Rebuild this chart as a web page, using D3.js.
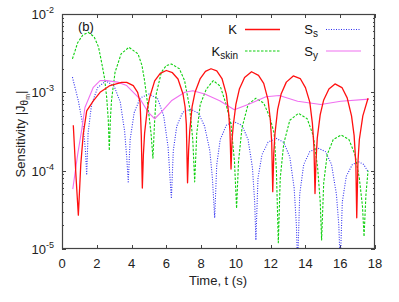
<!DOCTYPE html>
<html>
<head>
<meta charset="utf-8">
<script src="https://cdn.jsdelivr.net/npm/d3@7"></script>
<style>
  body { margin: 0; background: #fff; }
  svg { display: block; font-family: "Liberation Sans", Arial, sans-serif; }
</style>
</head>
<body>
<div id="chart"></div>
<script>
// data: [time (s), |J|]
const kData = [
  [0.65, 3.8e-4], [0.8, 8.8e-5], [0.94, 2.7e-5], [1.08, 1.2e-4], [1.22, 2.9e-4], [1.42, 5.8e-4],
  [1.8, 7.8e-4], [2.19, 1.0e-3], [2.76, 1.22e-3], [3.43, 1.34e-3], [3.72, 1.34e-3], [4.1, 1.22e-3],
  [4.35, 1.0e-3], [4.49, 7.5e-4], [4.56, 2.8e-4], [4.62, 6e-5],
  [4.68, 1.6e-4], [4.75, 3.0e-4], [4.9, 6.0e-4], [5.04, 8.6e-4], [5.33, 1.4e-3], [5.65, 1.75e-3],
  [6.0, 1.9e-3], [6.35, 1.78e-3], [6.67, 1.48e-3], [6.96, 9.5e-4], [7.08, 6.5e-4], [7.15, 3.9e-4], [7.22, 7e-5],
  [7.28, 1.8e-4], [7.35, 3.3e-4], [7.48, 6.5e-4], [7.65, 1.0e-3], [7.95, 1.5e-3], [8.25, 1.85e-3],
  [8.57, 2.0e-3], [8.9, 1.88e-3], [9.2, 1.5e-3], [9.45, 9.5e-4], [9.58, 5.5e-4], [9.66, 3.2e-4], [9.72, 1.05e-4],
  [9.78, 2.5e-4], [9.85, 3.8e-4], [10.0, 7.0e-4], [10.2, 1.1e-3], [10.5, 1.55e-3], [10.9, 1.83e-3],
  [11.3, 1.65e-3], [11.6, 1.3e-3], [11.85, 8.0e-4], [11.98, 4.5e-4], [12.06, 2.3e-4], [12.12, 5.4e-5],
  [12.18, 1.7e-4], [12.25, 3.0e-4], [12.4, 6.0e-4], [12.6, 9.5e-4], [12.9, 1.35e-3], [13.3, 1.62e-3],
  [13.7, 1.5e-3], [14.0, 1.15e-3], [14.25, 7.5e-4], [14.4, 4.0e-4], [14.49, 2.0e-4], [14.55, 5.1e-5],
  [14.61, 1.4e-4], [14.68, 2.6e-4], [14.85, 5.2e-4], [15.05, 8.0e-4], [15.35, 1.1e-3], [15.7, 1.28e-3],
  [16.1, 1.15e-3], [16.4, 8.5e-4], [16.65, 5.0e-4], [16.8, 2.8e-4], [16.9, 1.2e-4], [16.95, 2.5e-5],
  [17.02, 1.3e-4], [17.1, 2.5e-4], [17.3, 5.0e-4], [17.6, 8.4e-4]
];

const kskinData = [
  [0.6, 2.67e-3], [0.9, 4.3e-3], [1.2, 5.4e-3], [1.51, 5.84e-3], [1.85, 5.1e-3], [2.1, 3.8e-3],
  [2.28, 2.4e-3], [2.45, 1.5e-3], [2.57, 8.6e-4], [2.66, 4.5e-4], [2.72, 1.8e-4],
  [2.78, 4.5e-4], [2.85, 8.0e-4], [3.05, 1.8e-3], [3.4, 3.1e-3], [3.85, 3.76e-3], [4.37, 3.1e-3],
  [4.6, 2.2e-3], [4.75, 1.4e-3], [4.95, 6.4e-4], [5.12, 3.0e-4], [5.23, 1.44e-4],
  [5.32, 4.0e-4], [5.42, 9.5e-4], [5.71, 1.8e-3], [6.0, 2.2e-3], [6.29, 2.3e-3], [6.75, 2.0e-3],
  [7.05, 1.41e-3], [7.34, 6.4e-4], [7.52, 2.5e-4], [7.63, 7.2e-5],
  [7.75, 3.0e-4], [7.95, 7.0e-4], [8.3, 1.1e-3], [8.7, 1.41e-3], [9.1, 1.2e-3], [9.43, 7.1e-4],
  [9.72, 3.9e-4], [9.92, 1.3e-4], [10.04, 3.3e-5],
  [10.15, 1.3e-4], [10.35, 3.5e-4], [10.7, 7.0e-4], [11.15, 8.4e-4], [11.6, 7.3e-4], [11.95, 4.8e-4],
  [12.2, 3.0e-4], [12.33, 1.0e-4], [12.44, 1.2e-5],
  [12.55, 8.0e-5], [12.75, 2.2e-4], [13.1, 4.4e-4], [13.6, 5.4e-4], [14.1, 4.6e-4], [14.45, 2.8e-4],
  [14.7, 1.1e-4], [14.85, 4.0e-5], [14.93, 1.3e-5],
  [15.05, 7.0e-5], [15.25, 1.6e-4], [15.6, 2.5e-4], [16.05, 2.85e-4], [16.5, 2.5e-4], [16.85, 1.6e-4],
  [17.1, 8.0e-5], [17.28, 3.5e-5], [17.37, 1.44e-5], [17.48, 5.0e-5], [17.6, 1.0e-4]
];

const ssData = [
  [0.6, 1.56e-3], [0.94, 7.8e-4], [1.22, 3.6e-4], [1.35, 1.8e-4], [1.42, 8.8e-5],
  [1.5, 3.0e-4], [1.7, 7.0e-4], [2.05, 1.15e-3], [2.53, 1.4e-3], [3.0, 1.2e-3], [3.35, 7.5e-4],
  [3.6, 3.2e-4], [3.72, 1.5e-4], [3.81, 7.2e-5],
  [3.92, 2.5e-4], [4.15, 5.5e-4], [4.5, 8.5e-4], [5.0, 9.5e-4], [5.5, 8.3e-4], [5.85, 5.0e-4],
  [6.1, 2.0e-4], [6.29, 4.4e-5],
  [6.4, 1.8e-4], [6.6, 3.7e-4], [6.95, 5.6e-4], [7.4, 6.1e-4], [7.85, 5.4e-4], [8.2, 3.7e-4],
  [8.5, 1.8e-4], [8.65, 8.0e-5], [8.78, 2.5e-5],
  [8.9, 1.2e-4], [9.1, 2.5e-4], [9.45, 3.8e-4], [9.9, 4.2e-4], [10.35, 3.8e-4], [10.7, 2.5e-4],
  [10.95, 1.1e-4], [11.08, 4.0e-5], [11.15, 1.3e-5],
  [11.27, 8.0e-5], [11.5, 1.6e-4], [11.85, 2.3e-4], [12.3, 2.6e-4], [12.75, 2.3e-4], [13.1, 1.5e-4],
  [13.35, 6.0e-5], [13.48, 2.0e-5], [13.55, 6e-6],
  [13.67, 5.0e-5], [13.9, 1.2e-4], [14.25, 1.75e-4], [14.7, 1.95e-4], [15.15, 1.75e-4], [15.5, 1.2e-4],
  [15.78, 5.0e-5], [15.92, 2.0e-5], [16.0, 6e-6],
  [16.12, 4.0e-5], [16.35, 8.5e-5], [16.7, 1.2e-4], [17.05, 1.3e-4], [17.35, 1.2e-4], [17.6, 9.7e-5]
];

const syData = [
  [0.62, 5.8e-5], [0.9, 1.6e-4], [1.13, 3.3e-4], [1.32, 6.4e-4], [1.8, 1.16e-3], [2.19, 1.41e-3],
  [2.57, 1.41e-3], [3.2, 1.35e-3], [3.72, 1.22e-3], [4.49, 8.2e-4], [4.95, 5.6e-4], [5.33, 4.6e-4],
  [5.71, 5.6e-4], [6.29, 7.8e-4], [7.06, 1.0e-3], [7.53, 1.05e-3], [8.21, 9.5e-4], [9.07, 7.8e-4],
  [9.91, 6.0e-4], [10.77, 7.1e-4], [11.73, 8.8e-4], [12.5, 9.1e-4], [13.55, 7.7e-4], [14.88, 7.0e-4],
  [16.03, 7.7e-4], [17.65, 8.2e-4]
];

const xTicks = [0, 2, 4, 6, 8, 10, 12, 14, 16, 18];
const yExps = [-5, -4, -3, -2];

const W = 399, H = 302;
const mLeft = 62, mRight = 375, mTop = 14, mBottom = 249;

const x = d3.scaleLinear().domain([0, 18]).range([mLeft, mRight]);
const y = d3.scaleLog().domain([1e-5, 1e-2]).range([mBottom, mTop]);

const svg = d3.select("#chart").append("svg")
  .attr("width", W).attr("height", H);

svg.append("defs").append("clipPath").attr("id", "clip")
  .append("rect").attr("x", mLeft).attr("y", mTop)
  .attr("width", mRight - mLeft).attr("height", mBottom - mTop);

const axisColor = "#444";

// ticks (inward, all four sides)
const tk = svg.append("g").attr("stroke", axisColor).attr("stroke-width", 1);
xTicks.forEach(t => {
  const px = Math.round(x(t)) + 0.5;
  tk.append("line").attr("x1", px).attr("x2", px).attr("y1", mBottom).attr("y2", mBottom - 4);
  tk.append("line").attr("x1", px).attr("x2", px).attr("y1", mTop).attr("y2", mTop + 4);
});
yExps.forEach((e, i) => {
  const py = Math.round(y(Math.pow(10, e))) + 0.5;
  tk.append("line").attr("x1", mLeft).attr("x2", mLeft + 4).attr("y1", py).attr("y2", py);
  tk.append("line").attr("x1", mRight).attr("x2", mRight - 4).attr("y1", py).attr("y2", py);
  if (i < yExps.length - 1) {
    for (let m = 2; m <= 9; m++) {
      const my = Math.round(y(m * Math.pow(10, e))) + 0.5;
      tk.append("line").attr("x1", mLeft).attr("x2", mLeft + 2).attr("y1", my).attr("y2", my);
      tk.append("line").attr("x1", mRight).attr("x2", mRight - 2).attr("y1", my).attr("y2", my);
    }
  }
});

// tick labels
svg.append("g").selectAll("text").data(xTicks).join("text")
  .attr("x", d => x(d)).attr("y", 268)
  .attr("text-anchor", "middle").attr("font-size", 13).attr("fill", "#222")
  .text(d => d);

const yl = svg.append("g").selectAll("text").data(yExps).join("text")
  .attr("x", 54).attr("y", d => y(Math.pow(10, d)) + 5)
  .attr("text-anchor", "end").attr("font-size", 13).attr("fill", "#222");
yl.append("tspan").text("10");
yl.append("tspan").attr("dy", -6).attr("font-size", 9).text(d => "-" + (-d));

// axis titles
svg.append("text").attr("x", 218).attr("y", 285)
  .attr("text-anchor", "middle").attr("font-size", 13).attr("fill", "#222")
  .text("Time, t (s)");

const yt = svg.append("text")
  .attr("transform", "translate(25,134) rotate(-90)")
  .attr("text-anchor", "middle").attr("font-size", 13).attr("fill", "#222");
yt.append("tspan").text("Sensitivity  |J");
yt.append("tspan").attr("dy", 3).attr("font-size", 10).text("\u03b8");
yt.append("tspan").attr("dy", 2).attr("font-size", 7).text("m");
yt.append("tspan").attr("dy", -5).text("|");

// curves
const line = d3.line().x(d => x(d[0])).y(d => y(d[1]));
const series = [
  { name: "K", data: kData, color: "#ff1010", w: 1.3, dash: null },
  { name: "Kskin", data: kskinData, color: "#10d010", w: 1.1, dash: "2.5,1.5" },
  { name: "Ss", data: ssData, color: "#3030f0", w: 1.1, dash: "1,1.5" },
  { name: "Sy", data: syData, color: "#f070f0", w: 1.1, dash: null }
];
const plot = svg.append("g").attr("clip-path", "url(#clip)");
// draw order: Ss, Kskin, Sy, K on top
[series[2], series[1], series[3], series[0]].forEach(s => {
  plot.append("path").datum(s.data)
    .attr("d", line)
    .attr("fill", "none")
    .attr("stroke", s.color)
    .attr("stroke-width", s.w)
    .attr("stroke-dasharray", s.dash)
    .attr("stroke-linejoin", "round");
});

// frame
svg.append("rect").attr("x", mLeft + 0.5).attr("y", mTop + 0.5)
  .attr("width", mRight - mLeft - 1).attr("height", mBottom - mTop - 1)
  .attr("fill", "none").attr("stroke", axisColor).attr("stroke-width", 1.2);

// panel label
svg.append("text").attr("x", 78).attr("y", 31).attr("font-size", 13).attr("fill", "#111").text("(b)");

// legend
const lg = svg.append("g").attr("font-size", 13).attr("fill", "#111");
const legendRows = [
  { s: series[0], tx: 237, lx: 245, ly: 29.5, main: "K", sub: null },
  { s: series[1], tx: 238, lx: 245, ly: 51, main: "K", sub: "skin" },
  { s: series[2], tx: 318, lx: 326, ly: 29.5, main: "S", sub: "s" },
  { s: series[3], tx: 318, lx: 326, ly: 51, main: "S", sub: "y" }
];
legendRows.forEach(r => {
  const t = lg.append("text").attr("x", r.tx).attr("y", r.ly + 4.5).attr("text-anchor", "end");
  t.append("tspan").text(r.main);
  if (r.sub) t.append("tspan").attr("dy", 3).attr("font-size", 10).text(r.sub);
  lg.append("line").attr("x1", r.lx).attr("x2", r.lx + 35).attr("y1", r.ly).attr("y2", r.ly)
    .attr("stroke", r.s.color).attr("stroke-width", r.s.w).attr("stroke-dasharray", r.s.dash);
});
</script>
</body>
</html>
